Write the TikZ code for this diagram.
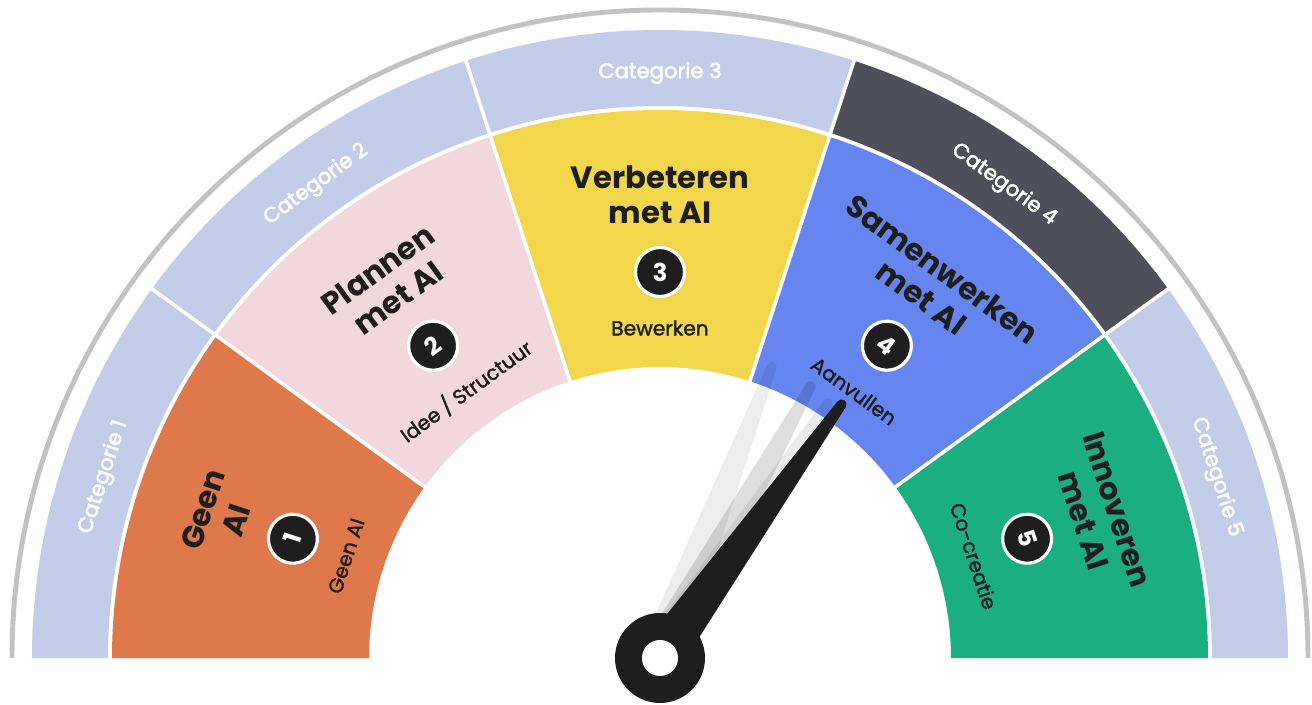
\documentclass[tikz,border=0pt]{standalone}
\usepackage{fontspec}
\setmainfont{Poppins}
\newfontfamily\medfont[FakeBold=2.6]{Poppins}
\newfontfamily\regfont[FakeBold=1.6]{Poppins}
\usepackage{xcolor}

\definecolor{band}{HTML}{C3CDE9}
\definecolor{darkband}{HTML}{4F4F5B}
\definecolor{geen}{HTML}{DF784A}
\definecolor{plan}{HTML}{F2D8DC}
\definecolor{verb}{HTML}{F2D64C}
\definecolor{samen}{HTML}{6586EE}
\definecolor{innov}{HTML}{1AAE81}
\definecolor{ink}{HTML}{1E1E1E}
\definecolor{rim}{HTML}{C2C2C2}

\tikzset{
	title/.style={text=ink, font=\fontsize{17.5}{20}\selectfont\bfseries, align=center, inner sep=0pt},
	sub/.style={text=ink, font=\fontsize{11.5}{13}\regfont, inner sep=0pt},
	cat/.style={text=white, font=\fontsize{12}{14}\medfont, inner sep=0pt},
	num/.style={circle, fill=ink, draw=white, line width=1.8pt, text=white, font=\fontsize{14}{14}\selectfont\bfseries, minimum size=0.98cm, inner sep=0pt}
}

\begin{document}
\begin{tikzpicture}[x=0.02cm, y=0.02cm]
				\useasboundingbox (-660,-46) rectangle (652,658);
				\draw[rim, line width=2.8pt] (-648,0) arc[start angle=180, end angle=0, radius=648];

				\foreach \a/\c in {144/band, 108/band, 72/band, 36/darkband, 0/band}
				{
					\fill[\c] (\a:552) arc[start angle=\a, delta angle=36, radius=552] -- (\a+36:628) arc[start angle=\a+36, delta angle=-36, radius=628] -- cycle;
				};
				\foreach \a/\c in {144/geen, 108/plan, 72/verb, 36/samen, 0/innov}
				{
					\fill[\c] (\a:291) arc[start angle=\a, delta angle=36, radius=291] -- (\a+36:548) arc[start angle=\a+36, delta angle=-36, radius=548] -- cycle;
				};
				\foreach \a in {36,72,108,144}
				{
					\draw[white, line width=2pt] (\a:289) -- (\a:630);
				};

				\foreach \k/\m/\t/\s in {1/162/{Geen\\AI}/{Geen AI}, 2/126/{Plannen\\met AI}/{Idee / Structuur}, 3/90/{Verbeteren\\met AI}/{Bewerken}, 4/54/{Samenwerken\\met AI}/{Aanvullen}, 5/18/{Innoveren\\met AI}/{Co-creatie}}
				{
					\node[cat, rotate=\m-90] (c\k) at (\m:585) {Categorie \k};
					\node[title, rotate=\m-90] (t\k) at (\m:463) {\t};
					\node[num, rotate=\m-90] (n\k) at (\m:386) {\k};
					\node[sub, rotate=\m-90] (s\k) at (\m:330) {\s};
				};

				\foreach \ang/\len/\o in {69/317/0.07, 61/316/0.13, 56.6/310/0.08}
				{
					\begin{scope}[rotate=\ang]
						\fill[black, opacity=\o] (0,-22) -- (\len-5,-5) arc[start angle=-90, end angle=90, radius=5] -- (0,22) -- cycle;
					\end{scope}
				};
				\begin{scope}[rotate=54.4]
					\fill[ink] (0,-22) -- (312,-5) arc[start angle=-90, end angle=90, radius=5] -- (0,22) -- cycle;
				\end{scope}
				\fill[ink] (0,0) circle[radius=45];
				\fill[white] (0,0) circle[radius=18];
\end{tikzpicture}
\end{document}
